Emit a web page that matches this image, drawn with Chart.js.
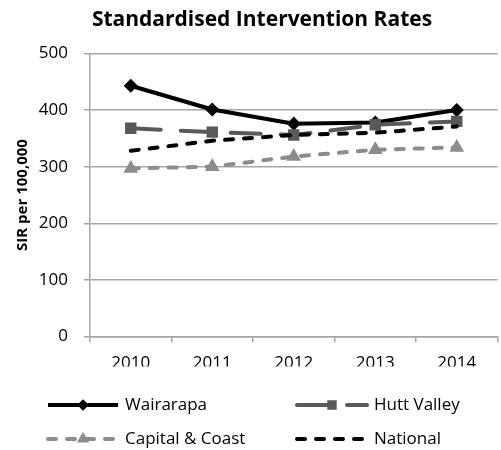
<!DOCTYPE html>
<html lang="en">
<head>
<meta charset="UTF-8">
<title>Standardised Intervention Rates</title>
<script src="https://cdn.jsdelivr.net/npm/chart.js"></script>
<style>
  body {
    margin: 0;
    padding: 0;
    overflow: hidden;
    background: #fff;
  }
  .chart-box {
    width: 506px;
    height: 450px;
  }
</style>
</head>
<body>
<div class="chart-box">
  <canvas id="sir-chart"></canvas>
</div>
<script>
  const years = ['2010', '2011', '2012', '2013', '2014'];
  const wairarapa = [443, 401, 376, 378, 400];
  const huttValley = [368, 361, 356, 374, 380];
  const capitalCoast = [297, 300, 318, 330, 334];
  const national = [328, 346, 356, 360, 371];
  const yTicks = [0, 100, 200, 300, 400, 500];

  const titleText = 'Standardised Intervention Rates';
  const axisTitle = 'SIR per 100,000';
  const baseFont = '"Open Sans", sans-serif';
  const gridGray = '#a6a6a6';

  // title and the two-column legend are drawn here
  const chartDecor = {
    id: 'chartDecor',
    afterDraw(chart) {
      const ctx = chart.ctx;
      ctx.save();
      ctx.fillStyle = '#000';
      ctx.font = 'bold 21px ' + baseFont;
      ctx.textAlign = 'center';
      ctx.textBaseline = 'middle';
      ctx.fillText(titleText, 262, 20);

      const slots = [
        { x: 48, y: 405 }, { x: 297, y: 405 },
        { x: 48, y: 439 }, { x: 297, y: 439 }
      ];
      const lineLen = 70;
      chart.data.datasets.forEach((ds, i) => {
        const s = slots[i];
        ctx.save();
        ctx.strokeStyle = ds.borderColor;
        ctx.lineWidth = ds.borderWidth;
        ctx.lineCap = ds.borderDash.length ? 'round' : 'butt';
        ctx.setLineDash(ds.borderDash);
        ctx.beginPath();
        ctx.moveTo(s.x, s.y);
        ctx.lineTo(s.x + lineLen, s.y);
        ctx.stroke();
        ctx.restore();
        if (ds.pointStyle) {
          ctx.save();
          ctx.fillStyle = ds.pointBackgroundColor;
          ctx.strokeStyle = ds.pointBorderColor;
          ctx.lineWidth = ds.pointBorderWidth;
          Chart.helpers.drawPoint(ctx, {
            pointStyle: ds.pointStyle,
            radius: ds.pointRadius * 0.8,
            borderWidth: ds.pointBorderWidth,
            rotation: 0
          }, s.x + lineLen / 2, s.y);
          ctx.restore();
        }
        ctx.fillStyle = '#000';
        ctx.font = '17px ' + baseFont;
        ctx.textAlign = 'left';
        ctx.fillText(ds.label, s.x + lineLen + 7, s.y);
      });
      ctx.restore();
    }
  };

  function series(label, data, color, width, dash, style, radius, order) {
    return {
      label: label,
      data: data,
      borderColor: color,
      backgroundColor: color,
      borderWidth: width,
      borderDash: dash,
      borderCapStyle: dash.length ? 'round' : 'butt',
      borderJoinStyle: 'round',
      pointStyle: style,
      pointRadius: radius,
      pointBorderWidth: 1.5,
      pointBackgroundColor: color,
      pointBorderColor: color,
      tension: 0,
      fill: false,
      order: order
    };
  }

  const ctx = document.getElementById('sir-chart').getContext('2d');
  const chart = new Chart(ctx, {
    type: 'line',
    data: {
      labels: years,
      datasets: [
        series('Wairarapa', wairarapa, '#000000', 4, [], 'rectRot', 6, 3),
        series('Hutt Valley', huttValley, '#595959', 4, [30, 20], 'rect', 7, 2),
        series('Capital & Coast', capitalCoast, '#8c8c8c', 4, [8, 11], 'triangle', 7, 1),
        series('National', national, '#000000', 4, [8, 11], false, 0, 0)
      ]
    },
    options: {
      responsive: true,
      maintainAspectRatio: false,
      animation: false,
      layout: {
        padding: { top: 53.5, left: 0, right: 3, bottom: 83.5 }
      },
      plugins: {
        legend: { display: false },
        title: { display: false },
        tooltip: { enabled: false }
      },
      scales: {
        x: {
          offset: true,
          afterFit(scale) { scale.height = 30; },
          grid: {
            offset: true,
            drawOnChartArea: false,
            drawTicks: true,
            tickLength: 6,
            color: gridGray,
            lineWidth: 1.5
          },
          border: { color: gridGray, width: 1.5 },
          ticks: {
            color: '#000',
            padding: 10,
            font: { family: baseFont, size: 17 }
          }
        },
        y: {
          min: 0,
          max: 500,
          afterFit(scale) { scale.width = 90; },
          afterBuildTicks(scale) {
            scale.ticks = yTicks.map(v => ({ value: v }));
          },
          grid: {
            color: gridGray,
            lineWidth: 1.5,
            tickLength: 6
          },
          border: { color: gridGray, width: 1.5 },
          ticks: {
            color: '#000',
            padding: 16,
            font: { family: baseFont, size: 17 }
          },
          title: {
            display: true,
            text: axisTitle,
            color: '#000',
            padding: { top: 14, bottom: 0 },
            font: { family: baseFont, size: 15, weight: 'bold' }
          }
        }
      }
    },
    plugins: [chartDecor]
  });
</script>
</body>
</html>
